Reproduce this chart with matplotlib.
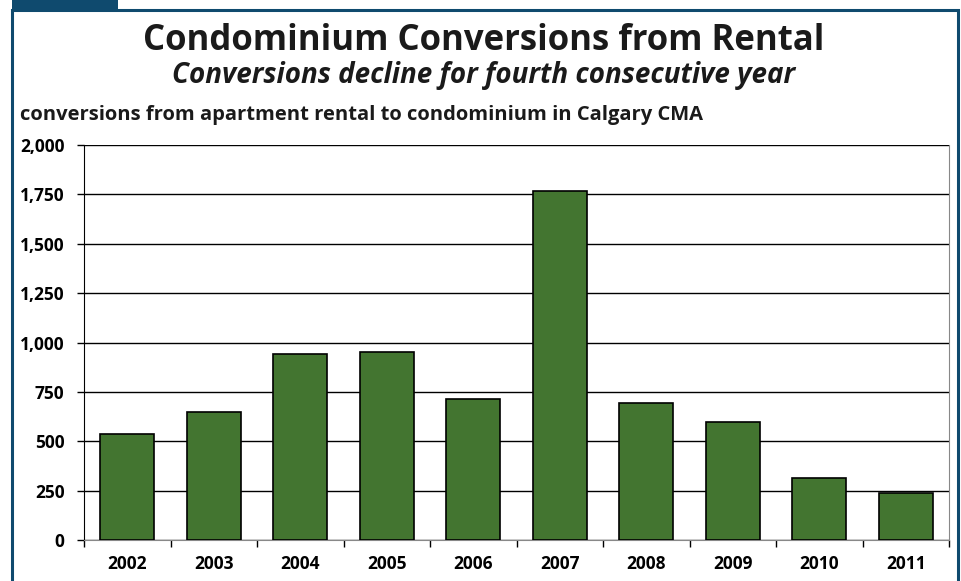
import matplotlib.pyplot as plt
from matplotlib.patches import Rectangle
from matplotlib.ticker import FuncFormatter, FixedLocator

years = ["2002", "2003", "2004", "2005", "2006", "2007", "2008", "2009", "2010", "2011"]
conversions = [537, 648, 942, 952, 714, 1767, 694, 597, 314, 238]

plt.rcParams['font.family'] = ['Open Sans', 'DejaVu Sans']

W, H = 962, 581
fig = plt.figure(figsize=(W / 100, H / 100), dpi=100)

# frame around the whole graphic
navy = "#0f4a6e"
fig.add_artist(Rectangle((12 / W, -0.05), 946 / W, 1.05 - 10 / H, transform=fig.transFigure,
                         fill=False, edgecolor=navy, linewidth=2.2))
fig.add_artist(Rectangle((12 / W, 1 - 10 / H), 106 / W, 10 / H, transform=fig.transFigure,
                         facecolor=navy, edgecolor="none"))

fig.text(484 / W, 1 - 41 / H, "Condominium Conversions from Rental", ha="center", va="center",
         fontsize=25, fontweight="bold", color="#1a1a1a")
fig.text(484 / W, 1 - 75 / H, "Conversions decline for fourth consecutive year", ha="center",
         va="center", fontsize=20, fontweight="bold", fontstyle="italic", color="#1a1a1a")
fig.text(20 / W, 1 - 115 / H, "conversions from apartment rental to condominium in Calgary CMA",
         ha="left", va="center", fontsize=14.5, fontweight="bold", color="#1a1a1a")

ax = fig.add_axes([84 / W, 41 / H, 865 / W, 395 / H])
x = range(len(years))
ax.bar(x, conversions, width=0.62, color="#437530", edgecolor="black", linewidth=1.2, zorder=3)

ax.set_xlim(-0.5, len(years) - 0.5)
ax.set_ylim(0, 2000)
ax.set_yticks(range(0, 2001, 250))
ax.yaxis.set_major_formatter(FuncFormatter(lambda v, p: f"{int(v):,}"))
ax.grid(axis="y", color="black", linewidth=1.0, zorder=0)

ax.set_xticks(list(x))
ax.set_xticklabels(years)
ax.xaxis.set_minor_locator(FixedLocator([i - 0.5 for i in range(len(years) + 1)]))
ax.tick_params(axis="x", which="major", length=0, pad=11)
ax.tick_params(axis="x", which="minor", length=5, width=1, color="black")
ax.tick_params(axis="y", length=5, width=1, pad=9)
for lab in ax.get_xticklabels() + ax.get_yticklabels():
    lab.set_fontweight("bold")
    lab.set_fontsize(12.5)
    lab.set_color("black")

ax.spines["left"].set_color("black")
ax.spines["bottom"].set_color("#888888")
ax.spines["right"].set_color("#888888")
ax.spines["top"].set_visible(False)

fig.savefig("out.png", dpi=100)
